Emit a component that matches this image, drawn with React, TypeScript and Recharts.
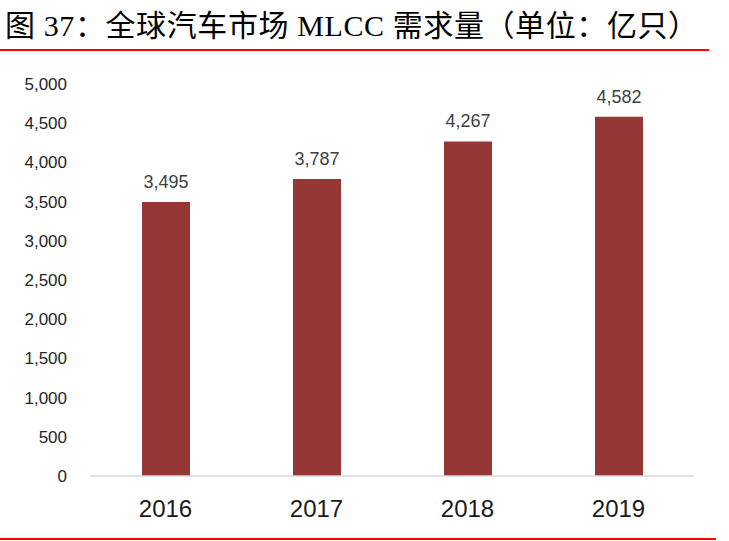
import React from "react";
import { BarChart, Bar, XAxis, YAxis, LabelList } from "recharts";

const years = ["2016", "2017", "2018", "2019"];
const demand = [3495, 3787, 4267, 4582];
const yTicks = [0, 500, 1000, 1500, 2000, 2500, 3000, 3500, 4000, 4500, 5000];
const titleText = "图 37：全球汽车市场 MLCC 需求量（单位：亿只）";

const data = years.map((y, i) => ({ year: y, value: demand[i] }));

const fmt = (v: number) => v.toLocaleString("en-US");

export default function App() {
  return (
    <div style={{ position: "absolute", left: 0, top: 0, width: 729, height: 541, background: "#fff", overflow: "hidden" }}>
      <div
        style={{
          position: "absolute",
          left: 5,
          top: 11,
          fontSize: 30,
          lineHeight: "30px",
          letterSpacing: 0.6,
          fontWeight: 400,
          whiteSpace: "nowrap",
          fontFamily: "'Liberation Serif', 'Noto Sans CJK SC', serif",
          color: "#000",
        }}
      >
        {titleText}
      </div>
      <div style={{ position: "absolute", left: 0, top: 49, width: 709, height: 2, background: "#ff0000" }} />
      <div style={{ position: "absolute", left: 0, top: 538, width: 716, height: 2, background: "#ff0000" }} />
      <div style={{ position: "absolute", left: 0, top: 0 }}>
        <BarChart width={729} height={541} data={data} margin={{ top: 84, right: 35, bottom: 0, left: 0 }}>
          <XAxis
            dataKey="year"
            height={65}
            axisLine={{ stroke: "#d9d9d9", strokeWidth: 1.5 }}
            tickLine={false}
            tickSize={0}
            tickMargin={24}
            tick={{ fontSize: 24, fill: "#1a1a1a", fontFamily: "'Liberation Sans', Arial, sans-serif" }}
          />
          <YAxis
            width={90}
            domain={[0, 5000]}
            ticks={yTicks}
            axisLine={false}
            tickLine={false}
            tickSize={0}
            tickMargin={23}
            tickFormatter={fmt}
            tick={{ fontSize: 17, fill: "#262626", fontFamily: "'Liberation Sans', Arial, sans-serif" }}
          />
          <Bar dataKey="value" fill="#953735" barSize={48} isAnimationActive={false}>
            <LabelList
              dataKey="value"
              position="top"
              offset={14}
              formatter={(v: number) => fmt(v)}
              style={{ fontSize: 18, fill: "#404040", fontFamily: "'Liberation Sans', Arial, sans-serif" }}
            />
          </Bar>
        </BarChart>
      </div>
    </div>
  );
}
